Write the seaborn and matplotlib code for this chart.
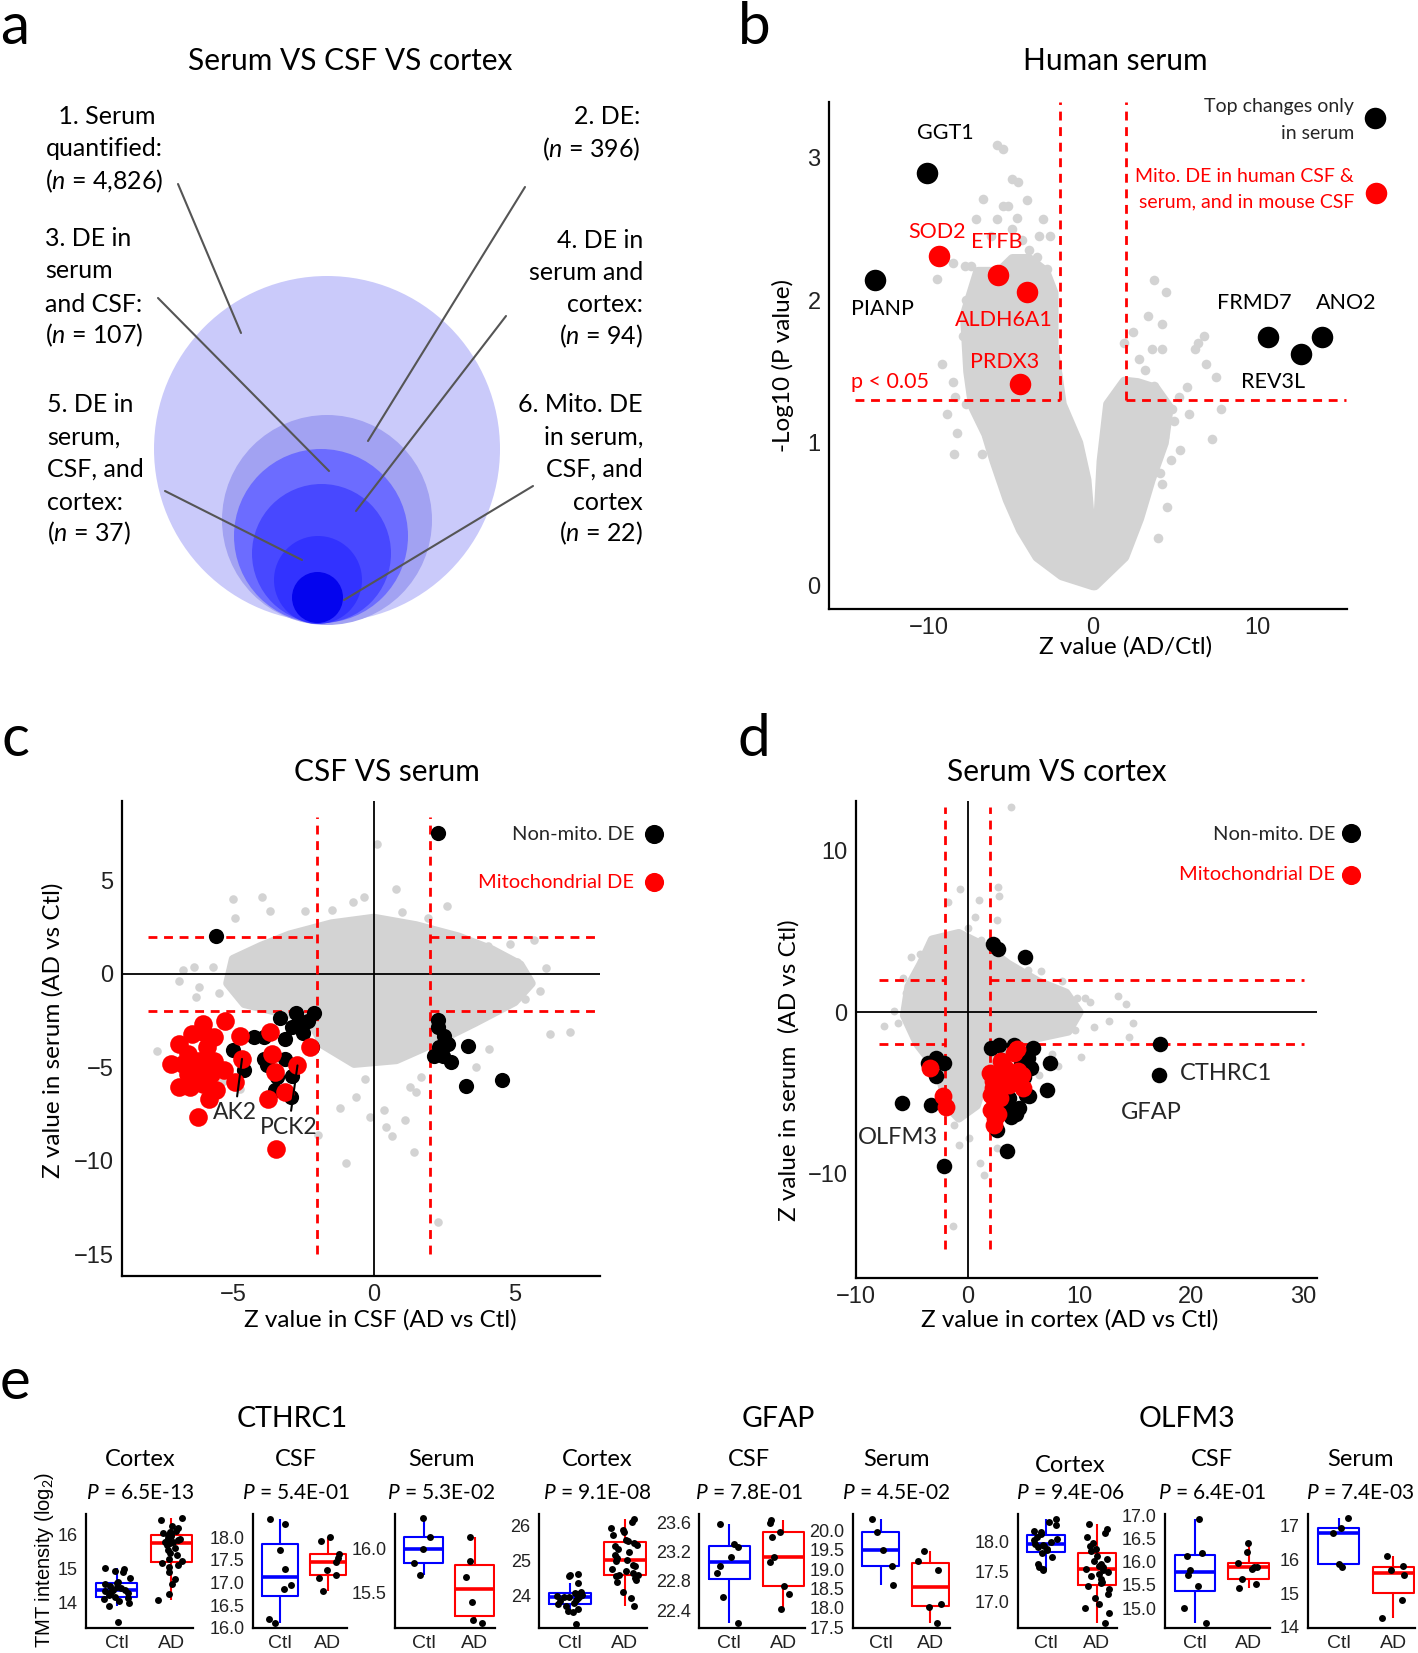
import numpy as np
import pandas as pd
import matplotlib
matplotlib.use("Agg")
import matplotlib.pyplot as plt
from matplotlib.patches import Circle
from matplotlib.ticker import FixedLocator, FormatStrFormatter
import seaborn as sns

# ============================ DATA ============================
# --- panel a (nested sets) ---
venn_counts = [4826, 396, 107, 94, 37, 22]

# --- panel b (volcano, human serum) ---
b_top_names = ['GGT1', 'PIANP', 'FRMD7', 'REV3L', 'ANO2']
b_top_z = [-10.08, -13.27, 10.6, 12.6, 13.9]
b_top_logp = [2.89, 2.14, 1.74, 1.62, 1.74]
b_mito_names = ['SOD2', 'ETFB', 'ALDH6A1', 'PRDX3']
b_mito_z = [-9.39, -5.81, -4.04, -4.44]
b_mito_logp = [2.31, 2.18, 2.06, 1.41]
b_gray_z = [-5.84, -5.46, -4.95, -4.57, -6.7, -5.46, -5.2, -7.1, -5.84, -4.64, -3.05, -4.95,
            -8.5, -9.5, -7.76, -7.4, -2.8, -3.4, -7.0, -7.74, -6.35, -3.55, -7.36, -8.5, -8.4,
            -7.74, -8.25, -8.45, -6.73, -6.35, -7.0, -6.1, -3.9, -4.3,
            -9.2, -8.9, -7.9, -7.2, -6.2, -4.0, -3.3, -2.6,
            3.68, 4.44, 3.3, 4.2, 2.41, 1.9, 3.55, 4.2, 6.73, 6.35, 6.2, 6.85, 7.49, 5.7, 5.2,
            4.8, 7.74, 7.2, 4.3, 4.7, 4.06, 4.2, 3.93, 2.8, 3.17, 3.68,
            4.9, 5.3, 4.5, 5.8]
b_gray_logp = [3.09, 3.06, 2.85, 2.83, 2.71, 2.66, 2.66, 2.57, 2.57, 2.58, 2.57, 2.5,
               2.26, 2.15, 2.24, 2.24, 2.22, 2.3, 2.09, 2.0, 2.0, 1.86, 1.66, 1.43, 1.32,
               1.27, 1.07, 0.92, 0.92, 1.04, 1.22, 1.38, 2.35, 2.42,
               1.55, 1.2, 1.75, 1.95, 2.45, 2.7, 2.45, 2.45,
               2.14, 2.06, 1.89, 1.83, 1.78, 1.7, 1.66, 1.66, 1.75, 1.70, 1.66, 1.55, 1.46, 1.39, 1.32,
               1.24, 1.24, 1.03, 1.04, 0.88, 0.79, 0.71, 0.33, 1.59, 1.51, 1.40,
               1.15, 0.95, 0.55, 1.2]
# dense core of the volcano cloud (outline of the two branches)
b_core_left_z = [0.0, -1.9, -3.4, -4.4, -5.2, -6.0, -6.5, -7.3, -7.6, -7.8, -7.0, -5.7, -4.9,
                 -3.9, -2.9, -2.4, -2.4, -1.9, -0.9, -0.4, -0.1]
b_core_left_logp = [0.0, 0.07, 0.2, 0.39, 0.6, 0.87, 1.06, 1.25, 1.5, 1.9, 2.2, 2.2, 2.29,
                    2.29, 2.2, 2.05, 1.67, 1.27, 1.0, 0.74, 0.33]
b_core_right_z = [0.1, 1.9, 2.8, 3.5, 4.3, 4.6, 3.8, 2.7, 1.9, 1.4, 0.9, 0.5, 0.25]
b_core_right_logp = [0.0, 0.2, 0.47, 0.74, 1.0, 1.25, 1.38, 1.42, 1.43, 1.35, 1.27, 0.87, 0.33]

# --- panel c (CSF vs serum) ---
c_nonmito_csf = [2.27, -5.62, -3.33, -2.78, -2.12, -2.32, -2.65, -2.91, -2.52, -3.17, -4.25,
                 -3.89, -5.0, -3.17, -3.89, -3.8, -3.43, -2.91, -3.5, -2.94, -2.19, -4.61, 2.29,
                 2.27, 2.49, 2.62, 2.33, 2.14, 2.46, 2.73, 3.34, 3.28, 4.56]
c_nonmito_serum = [7.53, 2.05, -2.35, -2.1, -2.1, -2.49, -2.49, -2.85, -3.15, -3.47, -3.35,
                   -3.38, -4.09, -4.54, -4.54, -4.89, -5.52, -5.43, -6.23, -6.58, -3.91, -5.16,
                   -2.46, -2.85, -3.29, -3.74, -3.91, -4.36, -4.36, -4.68, -3.83, -6.0, -5.69]
c_mito_names = [''] * 33
c_mito_names[20] = 'AK2'
c_mito_names[27] = 'PCK2'
c_mito_csf = [-6.06, -5.66, -6.45, -6.91, -5.92, -6.58, -7.21, -6.78, -6.19, -5.66, -6.32,
              -5.79, -6.91, -6.51, -6.06, -5.6, -5.86, -6.25, -5.27, -4.74, -4.68, -4.94, -3.7,
              -3.63, -3.5, -3.76, -3.17, -2.71, -2.25, -3.46, -5.33, -6.58, -6.06]
c_mito_serum = [-3.11, -3.38, -3.2, -3.74, -3.91, -4.27, -4.8, -4.8, -4.63, -4.63, -5.16,
                -5.34, -6.05, -6.05, -5.87, -6.23, -6.67, -7.65, -2.49, -3.29, -4.54, -5.78,
                -3.11, -4.27, -5.25, -6.67, -6.32, -4.89, -3.91, -9.38, -5.16, -5.34, -2.67]
c_gray_csf = [0.1, 0.79, -0.35, -0.75, 2.6, -5.0, -3.98, -2.45, -3.7, -4.94, 1.94, 4.04, 4.82,
              5.67, 5.09, -6.78, -6.91, -6.38, -6.19, -6.32, -7.69, 6.26, 6.98, 5.35, 4.1, 3.64,
              -1.21, -1.99, -0.62, -0.12, 0.43, 0.63, 1.09, 1.42, -0.97, 2.27, 0.37, 1.48, 1.68,
              1.28, -4.74, -5.4, -5.7, -5.5, 6.1, 5.9, -1.5, 1.0, -0.3, 3.0]
c_gray_serum = [6.94, 4.54, 4.09, 3.83, 3.65, 4.0, 4.13, 3.38, 3.38, 3.02, 3.02, 1.51, 1.6,
                1.81, 0.62, 0.21, -0.36, 0.36, -0.71, -1.25, -4.13, -3.2, -3.11, -1.33, -4.0,
                -4.98, -7.15, -8.63, -6.58, -7.65, -8.19, -8.68, -7.83, -9.52, -10.09, -13.26,
                -7.3, -6.32, -5.52, -6.05, -6.14, -5.78, 0.4, -1.0, 0.3, -0.9, 3.4, 3.3, -5.6, -2.9]
c_core_csf = [-5.2, -5.0, -4.0, -3.0, -1.5, 0.0, 1.5, 3.0, 4.2, 5.2, 5.6, 5.0, 3.6, 2.0, 0.8,
              -0.7, -1.8, -2.3, -3.5, -4.6]
c_core_serum = [-0.5, 0.8, 1.5, 2.1, 2.7, 3.0, 2.6, 2.0, 1.3, 0.5, -0.5, -1.5, -2.6, -3.8,
                -4.6, -4.8, -3.8, -2.4, -2.0, -1.6]

# --- panel d (serum vs cortex) ---
d_nonmito_cortex = [2.29, 2.7, 5.09, 17.16, 17.09, -5.91, -3.25, -2.15, 3.49, 2.63, 3.9, 4.55,
                    3.66, 5.2, 7.08, 7.32, 5.88, 2.8, 4.17, 5.37, 2.12, 5.64, -3.52, -2.15,
                    -2.84, -2.84, 3.0, 4.8, 5.0, 3.4, 4.3, 5.5, 2.6]
d_nonmito_serum = [4.21, 3.93, 3.41, -1.98, -3.88, -5.64, -5.74, -9.57, -8.64, -7.29, -6.53,
                   -5.95, -5.33, -5.12, -4.81, -3.16, -2.23, -2.02, -2.02, -2.85, -2.23, -3.47,
                   -3.16, -3.16, -3.99, -2.85, -3.0, -3.2, -4.0, -6.0, -6.3, -5.2, -3.8]
d_mito_cortex = [-3.35, -2.22, -1.91, 4.17, 3.32, 1.95, 2.29, 3.32, 4.86, 4.96, 3.66, 2.12,
                 2.46, 2.12, 2.46, 2.36, 2.97, 4.51, 4.4, 2.3, 2.9, 2.7]
d_mito_serum = [-3.47, -5.23, -5.91, -2.54, -3.47, -3.78, -4.3, -4.09, -3.88, -4.71, -4.5,
                -5.12, -5.54, -6.05, -6.57, -6.98, -3.06, -3.68, -2.3, -4.7, -5.3, -6.3]
d_gray_cortex = [3.9, -0.68, 2.7, 2.8, 0.99, -1.81, 0.65, 2.63, 0.0, 1.2, -2.91, -5.06, -3.52,
                 -5.57, -6.6, -7.52, -5.57, 10.5, 13.4, 14.19, 12.62, 14.77, 14.43, 10.15, 9.64,
                 8.79, 6.39, 8.1, 0.07, -0.79, 1.09, 1.44, -1.3, 2.63, -6.26, 8.44, 9.81, 6.56, 5.37,
                 -4.3, -5.8, 10.9, 11.3, 7.5, -1.2]
d_gray_serum = [12.75, 7.64, 7.79, 7.23, 6.96, 6.86, 5.93, 5.72, 5.21, 4.48, 4.32, 3.45, 3.04,
                1.18, 0.04, -0.89, -0.37, 0.87, 0.97, 0.5, -0.54, -0.68, -1.57, -2.81, -1.1,
                0.04, -3.88, -3.37, -7.81, -8.22, -9.36, -10.08, -13.29, -8.43, -0.68, 1.9,
                0.87, 2.52, 2.62, 3.6, 2.1, 0.6, -0.9, -2.6, -7.0]
d_core_cortex = [-3.2, -0.8, 1.5, 3.6, 6.3, 8.8, 10.0, 9.0, 6.3, 3.8, 2.0, 0.8, -0.8, -1.9,
                 -2.6, -4.5, -5.7, -5.3, -4.2]
d_core_serum = [4.5, 4.9, 4.1, 3.0, 1.9, 1.2, 0.0, -1.2, -1.6, -2.1, -3.2, -5.8, -6.6, -5.8,
                -3.7, -2.0, -0.2, 1.6, 3.0]

# --- panel e (TMT intensity, log2) ---
e_genes = ['CTHRC1', 'GFAP', 'OLFM3']
e_tissues = ['Cortex', 'CSF', 'Serum']
e_pvalues = ['6.5E-13', '5.4E-01', '5.3E-02', '9.1E-08', '7.8E-01', '4.5E-02',
             '9.4E-06', '6.4E-01', '7.4E-03']
cthrc1_cortex_ctl = [15.01, 14.98, 14.94, 14.9, 14.72, 14.6, 14.58, 14.55, 14.5, 14.45, 14.42,
                     14.38, 14.37, 14.35, 14.3, 14.27, 14.22, 14.18, 14.15, 14.1, 14.05, 13.98,
                     13.9, 13.42]
cthrc1_cortex_ad = [16.5, 16.45, 16.28, 16.22, 16.12, 16.08, 16.05, 16.03, 16.0, 15.97, 15.92,
                    15.88, 15.85, 15.8, 15.79, 15.78, 15.75, 15.7, 15.62, 15.55, 15.48, 15.4,
                    15.3, 15.22, 15.18, 15.1, 15.05, 14.9, 14.7, 14.55, 14.25, 14.08]
cthrc1_csf_ctl = [18.4, 18.3, 17.72, 17.31, 16.95, 16.86, 16.19, 16.11]
cthrc1_csf_ad = [18.02, 17.92, 17.64, 17.54, 17.45, 17.28, 17.17, 17.09, 16.81]
cthrc1_serum_ctl = [16.35, 16.14, 16.0, 15.84, 15.7]
cthrc1_serum_ad = [16.14, 15.86, 15.68, 15.39, 15.18, 15.15]
gfap_cortex_ctl = [24.62, 24.58, 24.57, 24.35, 24.1, 24.08, 24.05, 24.02, 24.0, 23.98, 23.97,
                   23.95, 23.92, 23.88, 23.85, 23.8, 23.75, 23.7, 23.62, 23.55, 23.52, 23.18]
gfap_cortex_ad = [26.2, 26.11, 25.93, 25.87, 25.82, 25.73, 25.6, 25.56, 25.51, 25.45, 25.42,
                  25.33, 25.24, 25.16, 25.07, 25.02, 24.98, 24.89, 24.84, 24.77, 24.71, 24.65,
                  24.6, 24.58, 24.55, 24.49, 24.44, 24.38, 24.11, 23.93, 23.69]
gfap_csf_ctl = [23.58, 23.3, 23.26, 23.12, 23.0, 22.91, 22.58, 22.22]
gfap_csf_ad = [23.63, 23.59, 23.46, 23.39, 23.13, 23.05, 22.73, 22.62, 22.42]
gfap_serum_ctl = [20.3, 19.96, 19.5, 19.08, 18.58]
gfap_serum_ad = [19.46, 19.22, 18.98, 18.1, 18.02, 17.6]
olfm3_cortex_ctl = [18.39, 18.34, 18.29, 18.19, 18.16, 18.13, 18.08, 18.05, 18.03, 18.0, 17.97,
                    17.95, 17.93, 17.91, 17.88, 17.86, 17.82, 17.74, 17.63, 17.58, 17.55, 17.53]
olfm3_cortex_ad = [18.3, 18.22, 18.15, 18.08, 17.98, 17.93, 17.88, 17.84, 17.76, 17.72, 17.67,
                   17.63, 17.6, 17.58, 17.55, 17.53, 17.5, 17.46, 17.42, 17.38, 17.33, 17.3,
                   17.26, 17.2, 17.12, 17.05, 16.95, 16.88, 16.8, 16.63]
olfm3_csf_ctl = [16.93, 16.19, 16.12, 15.82, 15.72, 15.48, 15.0, 14.68]
olfm3_csf_ad = [16.4, 16.21, 15.97, 15.89, 15.88, 15.84, 15.63, 15.52, 15.43]
olfm3_serum_ctl = [17.22, 16.94, 16.78, 15.86, 15.78]
olfm3_serum_ad = [16.09, 15.81, 15.67, 15.55, 14.81, 14.27]
e_ticks = [[14, 15, 16], [16.0, 16.5, 17.0, 17.5, 18.0], [15.5, 16.0],
           [24, 25, 26], [22.4, 22.8, 23.2, 23.6], [17.5, 18.0, 18.5, 19.0, 19.5, 20.0],
           [17.0, 17.5, 18.0], [15.0, 15.5, 16.0, 16.5, 17.0], [14, 15, 16, 17]]

# ============================ STYLE ============================
sns.set_style("white")
MAIN = ['Lato', 'DejaVu Sans']
TICKF = 'Liberation Sans'
plt.rcParams['font.family'] = MAIN
plt.rcParams['mathtext.fontset'] = 'custom'
plt.rcParams['mathtext.rm'] = 'Lato'
plt.rcParams['mathtext.it'] = 'Lato:italic'
GRAY = '#D3D3D3'
RED = '#FF0000'
TCOL = '#222222'
DASH = (0, (3.2, 2.4))

W, H = 1418, 1653
fig = plt.figure(figsize=(W / 100, H / 100), dpi=100)


def add_ax(l, t, r, b):
    return fig.add_axes([l / W, 1 - b / H, (r - l) / W, (b - t) / H])


def ptext(x, y, s, size, ha='center', va='center', color='black', family=None, **kw):
    fig.text(x / W, 1 - y / H, s, fontsize=size, ha=ha, va=va, color=color,
             family=family or MAIN, **kw)


def style(ax, fs=17):
    sns.despine(ax=ax)
    for s in ['left', 'bottom']:
        ax.spines[s].set_linewidth(1.6)
        ax.spines[s].set_color('black')
    ax.tick_params(axis='both', direction='out', length=4, width=1.2, color=TCOL,
                   labelsize=fs, labelcolor=TCOL, pad=2, labelfontfamily=TICKF)
    ax.set_xlabel('')
    ax.set_ylabel('')


def cloud(ax, cx, cy, gx, gy, s, lw):
    ax.fill(cx, cy, facecolor=GRAY, edgecolor=GRAY, linewidth=lw, joinstyle='round', zorder=1)
    sns.scatterplot(x=gx, y=gy, color=GRAY, s=s, linewidth=0, ax=ax, zorder=1, legend=False)


# ============================ overlay (panel a) ============================
ov = fig.add_axes([0, 0, 1, 1])
ov.set_xlim(0, W)
ov.set_ylim(H, 0)
ov.axis('off')
circ_geom = [(327, 449, 173), (327, 520, 105), (321, 536, 87), (321.5, 553.5, 69.5),
             (318, 580, 44), (317.5, 597.5, 25.5)]
circ_cols = ['#CACAFA', '#A2A2F2', '#6C6CFF', '#4848FF', '#3232FF', '#0404EE']
for (cx, cy, r), col in zip(circ_geom, circ_cols):
    ov.add_patch(Circle((cx, cy), r, facecolor=col, edgecolor='none'))
leaders = [((178, 184), (241, 333)), ((525, 187), (368, 441)), ((158, 298), (329, 471)),
           ((506, 316), (356, 511)), ((165, 491), (302, 560)), ((533, 486), (344, 600))]
for (x0, y0), (x1, y1) in leaders:
    ov.plot([x0, x1], [y0, y1], color='#555555', lw=1.5)

nit = r'($\mathit{n}$ = {:,})'
AFS = 18
ptext(350, 61, 'Serum VS CSF VS cortex', 21.5)
blk1 = [' 1. Serum', 'quantified:', nit.replace('{:,}', f'{venn_counts[0]:,}')]
for s, y in zip(blk1, [117, 149, 181]):
    ptext(104, y, s, AFS)
blk2 = ['2. DE:', nit.replace('{:,}', f'{venn_counts[1]:,}')]
for s, y in zip(blk2, [117, 149]):
    ptext(640, y, s, AFS, ha='right')
blk3 = ['3. DE in', 'serum', 'and CSF:', nit.replace('{:,}', f'{venn_counts[2]:,}')]
for s, y in zip(blk3, [238, 271, 304, 335]):
    ptext(45, y, s, AFS, ha='left')
blk4 = ['4. DE in', 'serum and', 'cortex:', nit.replace('{:,}', f'{venn_counts[3]:,}')]
for s, y in zip(blk4, [240, 272, 305, 336]):
    ptext(643, y, s, AFS, ha='right')
blk5 = ['5. DE in', 'serum,', 'CSF, and', 'cortex:', nit.replace('{:,}', f'{venn_counts[4]:,}')]
for s, y in zip(blk5, [405, 437, 469, 502, 533]):
    ptext(47, y, s, AFS, ha='left')
blk6 = ['6. Mito. DE', 'in serum,', 'CSF, and', 'cortex', nit.replace('{:,}', f'{venn_counts[5]:,}')]
for s, y in zip(blk6, [405, 437, 469, 502, 533]):
    ptext(643, y, s, AFS, ha='right')

# panel letters
for L, x, y in [('a', 0, 44), ('b', 738, 44), ('c', 2, 756), ('d', 738, 756), ('e', 0, 1399)]:
    ptext(x, y, L, 42, ha='left', va='baseline')

# ============================ panel b ============================
axb = add_ax(829, 102, 1347, 609)
cloud(axb, b_core_left_z, b_core_left_logp, b_gray_z, b_gray_logp, 48, 7)
axb.fill(b_core_right_z, b_core_right_logp, facecolor=GRAY, edgecolor=GRAY, linewidth=7,
         joinstyle='round', zorder=1)
thr = -np.log10(0.05)
axb.plot([-2, -2], [thr, 3.39], color=RED, lw=2, ls=DASH, zorder=2)
axb.plot([2, 2], [thr, 3.39], color=RED, lw=2, ls=DASH, zorder=2)
axb.plot([-14.5, -2], [thr, thr], color=RED, lw=2, ls=DASH, zorder=2)
axb.plot([2, 15.36], [thr, thr], color=RED, lw=2, ls=DASH, zorder=2)
sns.scatterplot(x=b_top_z, y=b_top_logp, color='black', s=240, linewidth=0, ax=axb, zorder=3)
sns.scatterplot(x=b_mito_z, y=b_mito_logp, color=RED, s=240, linewidth=0, ax=axb, zorder=3)
axb.set_xlim(-16.05, 15.42)
axb.set_ylim(-0.165, 3.39)
axb.set_xticks([-10, 0, 10])
axb.set_yticks([0, 1, 2, 3])
style(axb)
b_label_pos = {'GGT1': (-9.0, 3.17), 'PIANP': (-12.8, 1.94), 'FRMD7': (9.8, 1.98),
               'REV3L': (10.9, 1.43), 'ANO2': (15.4, 1.98), 'SOD2': (-9.47, 2.48),
               'ETFB': (-5.84, 2.41), 'ALDH6A1': (-5.46, 1.86), 'PRDX3': (-5.38, 1.57)}
LFS = 15.5
for n in b_top_names:
    axb.text(*b_label_pos[n], n, fontsize=LFS, ha='center', va='center', color='black', zorder=4)
for n in b_mito_names:
    axb.text(*b_label_pos[n], n, fontsize=LFS, ha='center', va='center', color=RED, zorder=4)
axb.text(-14.7, 1.43, 'p < 0.05', fontsize=LFS, ha='left', va='center', color=RED)
LGS = 14
axb.text(15.86, 3.36, 'Top changes only', fontsize=LGS, ha='right', va='center')
axb.text(15.86, 3.17, 'in serum', fontsize=LGS, ha='right', va='center')
axb.text(15.86, 2.87, 'Mito. DE in human CSF &', fontsize=LGS, ha='right', va='center', color=RED)
axb.text(15.86, 2.69, 'serum, and in mouse CSF', fontsize=LGS, ha='right', va='center', color=RED)
axb.scatter([17.13], [3.28], s=240, color='black', linewidth=0, clip_on=False)
axb.scatter([17.18], [2.75], s=240, color=RED, linewidth=0, clip_on=False)
ptext(1115, 61, 'Human serum', 21.5)
ptext(783, 366, '-Log10 (P value)', 17.5, rotation=90)
ptext(1126, 647, 'Z value (AD/Ctl)', 17.5)

# ============================ panel c ============================
axc = add_ax(122, 801, 600, 1276)
cloud(axc, c_core_csf, c_core_serum, c_gray_csf, c_gray_serum, 38, 6)
axc.axhline(0, color='black', lw=1.3, zorder=2)
axc.axvline(0, color='black', lw=1.3, zorder=2)
for xv in (-2, 2):
    axc.plot([xv, xv], [-15, 8.4], color=RED, lw=2, ls=DASH, zorder=2)
for yv in (-2, 2):
    axc.plot([-8.03, -2], [yv, yv], color=RED, lw=2, ls=DASH, zorder=2)
    axc.plot([2, 8.03], [yv, yv], color=RED, lw=2, ls=DASH, zorder=2)
sns.scatterplot(x=c_nonmito_csf, y=c_nonmito_serum, color='black', s=120, linewidth=0, ax=axc, zorder=3)
sns.scatterplot(x=c_mito_csf, y=c_mito_serum, color=RED, s=180, linewidth=0, ax=axc, zorder=4)
axc.set_xlim(-8.94, 8.03)
axc.set_ylim(-16.15, 9.25)
axc.set_xticks([-5, 0, 5])
axc.set_yticks([-15, -10, -5, 0, 5])
style(axc)
c_label_pos = {'AK2': (-4.93, -7.43), 'PCK2': (-3.02, -8.2)}
for n, x, y in zip(c_mito_names, c_mito_csf, c_mito_serum):
    if n:
        axc.annotate(n, xy=(x, y), xytext=c_label_pos[n], fontsize=16.5, ha='center', va='center',
                     arrowprops=dict(arrowstyle='-', lw=1.5, color='black', shrinkA=2, shrinkB=0),
                     zorder=5)
axc.text(9.25, 7.48, 'Non-mito. DE', fontsize=14.5, ha='right', va='center')
axc.text(9.25, 4.9, 'Mitochondrial DE', fontsize=14.5, ha='right', va='center', color=RED)
axc.scatter([9.96], [7.48], s=190, color='black', linewidth=0, clip_on=False)
axc.scatter([9.96], [4.9], s=190, color=RED, linewidth=0, clip_on=False)
ptext(387, 772, 'CSF VS serum', 21.5)
ptext(53, 1030, 'Z value in serum (AD vs Ctl)', 17.5, rotation=90)
ptext(380, 1320, 'Z value in CSF (AD vs Ctl)', 17.5)

# ============================ panel d ============================
axd = add_ax(856, 801, 1317, 1278)
cloud(axd, d_core_cortex, d_core_serum, d_gray_cortex, d_gray_serum, 32, 6)
axd.axhline(0, color='black', lw=1.3, zorder=2)
axd.axvline(0, color='black', lw=1.3, zorder=2)
for xv in (-2, 2):
    axd.plot([xv, xv], [-14.73, 12.75], color=RED, lw=2, ls=DASH, zorder=2)
for yv in (-2, 2):
    axd.plot([-7.9, -2], [yv, yv], color=RED, lw=2, ls=DASH, zorder=2)
    axd.plot([2, 30.1], [yv, yv], color=RED, lw=2, ls=DASH, zorder=2)
sns.scatterplot(x=d_nonmito_cortex, y=d_nonmito_serum, color='black', s=125, linewidth=0, ax=axd, zorder=3)
sns.scatterplot(x=d_mito_cortex, y=d_mito_serum, color=RED, s=165, linewidth=0, ax=axd, zorder=4)
axd.set_xlim(-10.0, 31.25)
axd.set_ylim(-16.5, 13.1)
axd.set_xticks([-10, 0, 10, 20, 30])
axd.set_yticks([-10, 0, 10])
style(axd)
axd.text(18.97, -3.84, 'CTHRC1', fontsize=17, ha='left', va='center')
axd.text(16.38, -6.22, 'GFAP', fontsize=17, ha='center', va='center')
axd.text(-6.26, -7.77, 'OLFM3', fontsize=17, ha='center', va='center')
axd.text(32.9, 11.05, 'Non-mito. DE', fontsize=14.5, ha='right', va='center')
axd.text(32.9, 8.51, 'Mitochondrial DE', fontsize=14.5, ha='right', va='center', color=RED)
axd.scatter([34.3], [11.1], s=190, color='black', linewidth=0, clip_on=False)
axd.scatter([34.3], [8.51], s=190, color=RED, linewidth=0, clip_on=False)
ptext(1057, 772, 'Serum VS cortex', 21.5)
ptext(789, 1070, 'Z value in serum  (AD vs Ctl)', 17.5, rotation=90)
ptext(1070, 1320, 'Z value in cortex (AD vs Ctl)', 17.5)

# ============================ panel e ============================
e_data = [(cthrc1_cortex_ctl, cthrc1_cortex_ad), (cthrc1_csf_ctl, cthrc1_csf_ad),
          (cthrc1_serum_ctl, cthrc1_serum_ad), (gfap_cortex_ctl, gfap_cortex_ad),
          (gfap_csf_ctl, gfap_csf_ad), (gfap_serum_ctl, gfap_serum_ad),
          (olfm3_cortex_ctl, olfm3_cortex_ad), (olfm3_csf_ctl, olfm3_csf_ad),
          (olfm3_serum_ctl, olfm3_serum_ad)]
e_xspan = [(86, 193), (253, 347), (395, 495), (539, 647), (699, 805), (853, 950),
           (1018, 1117), (1165, 1270), (1308, 1415)]
e_ylims = [(13.25, 16.62), (15.99, 18.52), (15.09, 16.4), (23.07, 26.34), (22.155, 23.71),
           (17.48, 20.42), (16.55, 18.47), (14.57, 17.03), (13.97, 17.34)]
e_title_x = [140, 296, 441, 597, 749, 896, 1070, 1212, 1360]
e_group_x = [292, 778, 1187]
np.random.seed(7)  # jitter only
for i, ((ctl, ad), (l, r)) in enumerate(zip(e_data, e_xspan)):
    ax = add_ax(l, 1514, r, 1628)
    df = pd.DataFrame({'group': ['Ctl'] * len(ctl) + ['AD'] * len(ad), 'value': ctl + ad})
    sns.boxplot(data=df, x='group', y='value', hue='group', order=['Ctl', 'AD'],
                hue_order=['Ctl', 'AD'], palette={'Ctl': '#0000FF', 'AD': '#FF0000'},
                fill=False, saturation=1, showfliers=False, width=0.75, linewidth=1.5,
                legend=False, ax=ax, medianprops={'linewidth': 2.6},
                capprops={'visible': False})
    sns.stripplot(data=df, x='group', y='value', order=['Ctl', 'AD'], color='black',
                  size=5, jitter=0.25, ax=ax, zorder=5)
    ax.set_xlim(-0.56, 1.4)
    ax.set_ylim(*e_ylims[i])
    ax.yaxis.set_major_locator(FixedLocator(e_ticks[i]))
    fmt = '%d' if all(float(t).is_integer() for t in e_ticks[i]) else '%.1f'
    ax.yaxis.set_major_formatter(FormatStrFormatter(fmt))
    style(ax, 13)
    ax.tick_params(axis='x', pad=1, labelsize=14)
    ty = 1465 if i == 6 else 1460
    ptext(e_title_x[i], ty, e_tissues[i % 3], 17)
    ptext(e_title_x[i], 1493, r'$\mathit{P}$ = ' + e_pvalues[i], 15)
for g, x in zip(e_genes, e_group_x):
    ptext(x, 1419, g, 20.5)
ptext(45, 1560, 'TMT intensity (log$_2$)', 14.5, rotation=90, family=TICKF)

fig.savefig('out.png', dpi=100)
